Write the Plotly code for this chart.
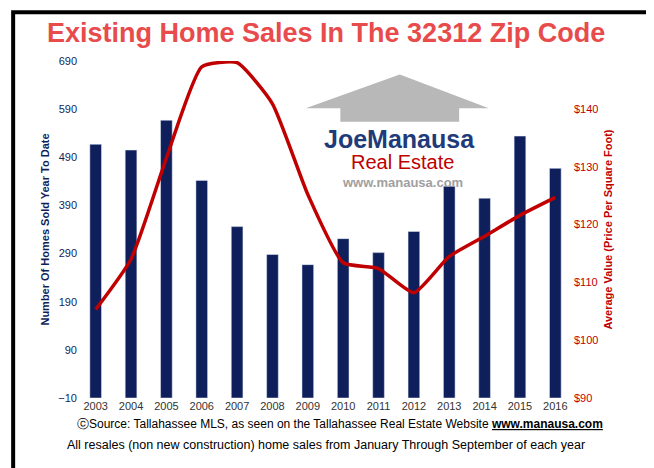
import plotly.graph_objects as go

years = [str(y) for y in range(2003, 2017)]
homes_sold = [517, 505, 567, 442, 346, 288, 267, 321, 292, 336, 430, 405, 534, 467]
price_sqft = [105.3, 114, 131.5, 147.3, 148, 140.9, 125.2, 113.4, 112.4, 108.2, 114.5, 118, 121.6, 124.7]

W, H = 654, 468
fig = go.Figure()
fig.add_bar(x=years, y=[v + 10 for v in homes_sold], base=-10,
            marker_color="#0f1f5c", width=0.33)
fig.add_scatter(x=years, y=price_sqft, yaxis="y2", mode="lines",
                line=dict(color="#c00000", width=3.5, shape="spline", smoothing=0.5))

fig.update_layout(
    width=W, height=H, showlegend=False,
    paper_bgcolor="white", plot_bgcolor="white",
    margin=dict(l=70, r=89, t=53, b=78),
    font=dict(family="Liberation Sans", size=11, color="#333"),
    xaxis=dict(showgrid=False, tickfont=dict(size=11, color="#333"), ticks=""),
    yaxis=dict(range=[-10, 690], tick0=-10, dtick=100, showgrid=False, zeroline=False,
               title=dict(text="<b>Number Of Homes Sold Year To Date</b>",
                          font=dict(size=11, color="#0f1f5c"), standoff=6),
               tickfont=dict(color="#0f1f5c", size=11)),
    yaxis2=dict(range=[90, 148.3], dtick=10, overlaying="y", side="right",
                showgrid=False, zeroline=False, tickprefix="$",
                title=dict(text="<b>Average Value (Price Per Square Foot)</b>",
                           font=dict(size=11, color="#c00000"), standoff=6),
                tickfont=dict(color="#c00000", size=11)),
    shapes=[
        dict(type="rect", xref="paper", yref="paper", x0=-0.131, x1=1.166,
             y0=-0.22, y1=1.145, line=dict(color="black", width=4)),
        dict(type="path", xref="paper", yref="paper",
             path="M 0.46,0.86 L 0.65,0.96 L 0.83,0.86 L 0.77,0.86 L 0.77,0.82 "
                  "L 0.53,0.82 L 0.53,0.86 Z",
             fillcolor="#b8b8b8", line=dict(width=0), layer="below"),
    ],
    annotations=[
        dict(text="<b>Existing Home Sales In The 32312 Zip Code</b>", xref="paper", yref="paper",
             x=0.5, y=1.135, xanchor="center", yanchor="top", showarrow=False,
             font=dict(size=27, color="#e84b4b", family="Liberation Sans Narrow, Liberation Sans")),
        dict(text="<b>Joe</b><b>Manausa</b>", xref="paper", yref="paper", x=0.65, y=0.815,
             showarrow=False, font=dict(size=25, color="#1f3b7a", family="Liberation Sans Narrow, Liberation Sans")),
        dict(text="Real Estate", xref="paper", yref="paper", x=0.655, y=0.738,
             showarrow=False, font=dict(size=20, color="#c00000")),
        dict(text="<b>www.manausa.com</b>", xref="paper", yref="paper", x=0.655, y=0.64,
             showarrow=False, font=dict(size=13, color="#a0a0a0")),
        dict(text="ⓒSource: Tallahassee MLS, as seen on the Tallahassee Real Estate Website <b><u>www.manausa.com</u></b>",
             xref="paper", yref="paper", x=0.53, y=-0.105, showarrow=False,
             font=dict(size=12, color="black")),
        dict(text="All resales (non new construction) home sales from January Through September of each year",
             xref="paper", yref="paper", x=0.5, y=-0.165, showarrow=False,
             font=dict(size=12.5, color="black")),
    ],
)
fig.write_html("out.html")
